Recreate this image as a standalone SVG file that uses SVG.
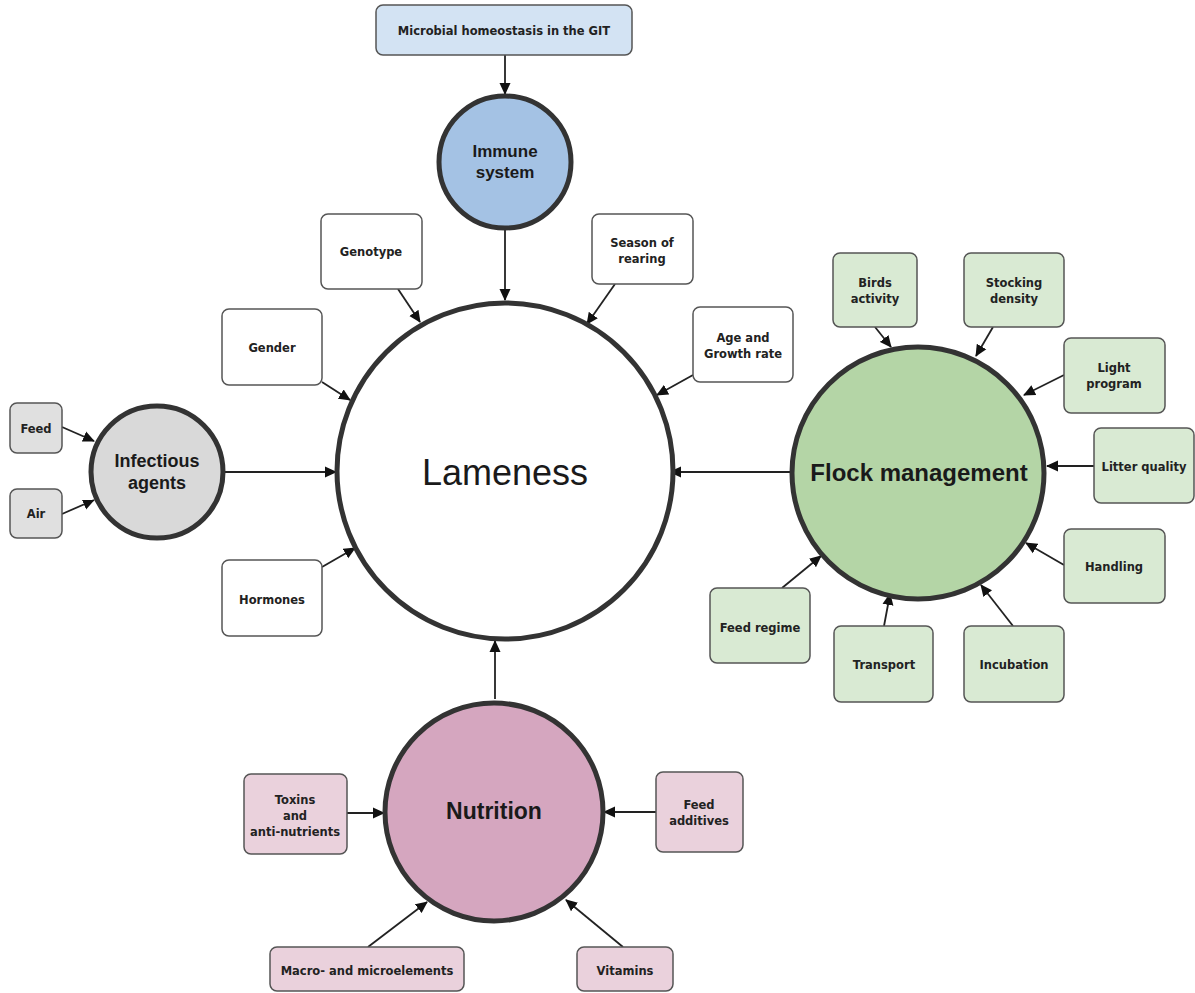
<svg xmlns="http://www.w3.org/2000/svg" width="1195" height="993" viewBox="0 0 1195 993">
<style>
.bx{stroke:#555;stroke-width:1.5}
.w{fill:#fff}.b{fill:#d3e3f3}.g{fill:#d9ead3}.p{fill:#ead1dc}.gr{fill:#e0e0e0}
.circ{stroke:#333;stroke-width:5}
.t{font-family:"DejaVu Sans",Verdana,sans-serif;font-weight:bold;font-size:11.5px;fill:#222;text-anchor:middle}
.big{font-family:"Liberation Sans",Arial,sans-serif;font-weight:bold;fill:#1a1a1a;text-anchor:middle}
.c line{stroke:#222;stroke-width:1.8;marker-end:url(#ah)}
</style>
<defs>
<marker id="ah" markerWidth="12" markerHeight="12" refX="11" refY="6" orient="auto" markerUnits="userSpaceOnUse">
<path d="M0,0.5 L12,6 L0,11.5 z" fill="#111"/>
</marker>
</defs>
<rect width="1195" height="993" fill="#fff"/>

<g class="c">
<line x1="505" y1="55" x2="505" y2="94"/>
<line x1="505" y1="229" x2="505" y2="300"/>
<line x1="398" y1="289" x2="420" y2="322"/>
<line x1="322" y1="382" x2="350" y2="400"/>
<line x1="615" y1="284" x2="587" y2="324"/>
<line x1="693" y1="375" x2="657" y2="395"/>
<line x1="322" y1="567" x2="355" y2="548"/>
<line x1="223" y1="472" x2="336" y2="472"/>
<line x1="62" y1="427" x2="94" y2="441"/>
<line x1="62" y1="514" x2="94" y2="500"/>
<line x1="792" y1="472" x2="670" y2="472"/>
<line x1="495" y1="699" x2="495" y2="641"/>
<line x1="875" y1="327" x2="891" y2="347"/>
<line x1="993" y1="327" x2="976" y2="356"/>
<line x1="1064" y1="375" x2="1024" y2="395"/>
<line x1="1094" y1="466" x2="1047" y2="466"/>
<line x1="1064" y1="565" x2="1026" y2="543"/>
<line x1="1013" y1="626" x2="981" y2="585"/>
<line x1="884" y1="626" x2="890" y2="594"/>
<line x1="782" y1="588" x2="821" y2="556"/>
<line x1="347" y1="813" x2="384" y2="813"/>
<line x1="656" y1="812" x2="604" y2="812"/>
<line x1="368" y1="947" x2="427" y2="902"/>
<line x1="623" y1="947" x2="566" y2="900"/>
</g>

<g id="lameness"><circle cx="505" cy="471" r="168" fill="#fff" class="circ"/><text x="505" y="485" font-family="Liberation Sans,Arial,sans-serif" font-size="36" fill="#1a1a1a" text-anchor="middle">Lameness</text></g>

<g id="microbial"><rect x="376" y="5" width="256" height="50" rx="7" class="bx b"/><text x="504" y="35" class="t">Microbial homeostasis in the GIT</text></g>
<g id="immune"><circle cx="505" cy="162" r="66" fill="#a4c2e4" class="circ"/><text x="505" y="157" class="big" font-size="17">Immune</text><text x="505" y="178" class="big" font-size="17">system</text></g>

<g id="genotype"><rect x="321" y="214" width="101" height="75" rx="7" class="bx w"/><text x="371" y="256" class="t">Genotype</text></g>
<g id="gender"><rect x="222" y="309" width="100" height="76" rx="7" class="bx w"/><text x="272" y="352" class="t">Gender</text></g>
<g id="season"><rect x="592" y="214" width="101" height="70" rx="7" class="bx w"/><text x="642" y="247" class="t">Season of</text><text x="642" y="263" class="t">rearing</text></g>
<g id="age"><rect x="693" y="307" width="100" height="75" rx="7" class="bx w"/><text x="743" y="342" class="t">Age and</text><text x="743" y="358" class="t">Growth rate</text></g>
<g id="hormones"><rect x="222" y="560" width="100" height="76" rx="7" class="bx w"/><text x="272" y="604" class="t">Hormones</text></g>

<g id="infectious"><circle cx="157" cy="472" r="66" fill="#d9d9d9" class="circ"/><text x="157" y="467" class="big" font-size="18">Infectious</text><text x="157" y="489" class="big" font-size="18">agents</text></g>
<g id="feed"><rect x="10" y="403" width="52" height="50" rx="7" class="bx gr"/><text x="36" y="433" class="t">Feed</text></g>
<g id="air"><rect x="10" y="489" width="52" height="49" rx="7" class="bx gr"/><text x="36" y="518" class="t">Air</text></g>

<g id="flock"><circle cx="918" cy="473" r="126" fill="#b4d5a6" class="circ"/><text x="919" y="481" class="big" font-size="24">Flock management</text></g>
<g id="birds"><rect x="833" y="253" width="84" height="74" rx="7" class="bx g"/><text x="875" y="287" class="t">Birds</text><text x="875" y="303" class="t">activity</text></g>
<g id="stocking"><rect x="964" y="253" width="100" height="74" rx="7" class="bx g"/><text x="1014" y="287" class="t">Stocking</text><text x="1014" y="303" class="t">density</text></g>
<g id="light"><rect x="1064" y="338" width="101" height="75" rx="7" class="bx g"/><text x="1114" y="372" class="t">Light</text><text x="1114" y="388" class="t">program</text></g>
<g id="litter"><rect x="1094" y="428" width="100" height="75" rx="7" class="bx g"/><text x="1144" y="471" class="t">Litter quality</text></g>
<g id="handling"><rect x="1064" y="529" width="101" height="74" rx="7" class="bx g"/><text x="1114" y="571" class="t">Handling</text></g>
<g id="feedregime"><rect x="710" y="588" width="100" height="75" rx="7" class="bx g"/><text x="760" y="632" class="t">Feed regime</text></g>
<g id="transport"><rect x="834" y="626" width="99" height="76" rx="7" class="bx g"/><text x="884" y="669" class="t">Transport</text></g>
<g id="incubation"><rect x="964" y="626" width="100" height="76" rx="7" class="bx g"/><text x="1014" y="669" class="t">Incubation</text></g>

<g id="nutrition"><circle cx="494" cy="812" r="109" fill="#d5a6bf" class="circ"/><text x="494" y="819" class="big" font-size="23">Nutrition</text></g>
<g id="toxins"><rect x="244" y="774" width="103" height="80" rx="7" class="bx p"/><text x="295" y="804" class="t">Toxins</text><text x="295" y="820" class="t">and</text><text x="295" y="836" class="t">anti-nutrients</text></g>
<g id="feedadd"><rect x="656" y="772" width="87" height="80" rx="7" class="bx p"/><text x="699" y="809" class="t">Feed</text><text x="699" y="825" class="t">additives</text></g>
<g id="macro"><rect x="270" y="947" width="194" height="44" rx="7" class="bx p"/><text x="367" y="975" class="t">Macro- and microelements</text></g>
<g id="vitamins"><rect x="577" y="947" width="96" height="44" rx="7" class="bx p"/><text x="625" y="975" class="t">Vitamins</text></g>
</svg>
